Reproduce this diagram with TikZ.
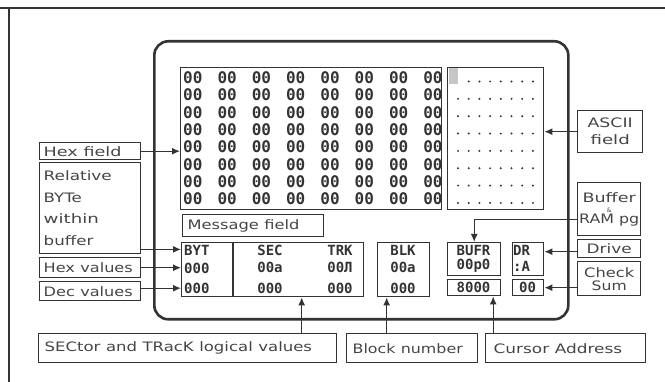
\documentclass[tikz,border=0pt]{standalone}
\usepackage{fontspec}
\usepackage{graphicx}
\setmainfont{DejaVu Sans}
\newfontfamily\lbl{DejaVu Sans}
\newfontfamily\scr{DejaVu Sans Mono}
\usetikzlibrary{arrows.meta}
\newcommand{\hs}[2]{\scalebox{#1}[1]{#2}}
\definecolor{ink}{HTML}{333333}
\definecolor{txt}{HTML}{454545}
\tikzset{
  bx/.style={draw=ink, line width=1.4pt, inner sep=0pt, anchor=north west},
  lbox/.style={bx, font=\lbl\fontsize{13}{14}\selectfont, text=txt, align=left, inner xsep=4pt},
  cbox/.style={bx, font=\lbl\fontsize{13}{14}\selectfont, text=txt, align=center},
  arr/.style={draw=ink, line width=1.3pt, -{Latex[length=8pt,width=7pt]}},
  hexv/.style={font=\scr\bfseries\fontsize{16}{16}\selectfont, text=ink, inner sep=0pt, anchor=west},
  sv/.style={font=\scr\bfseries\fontsize{14}{14}\selectfont, text=ink, inner sep=0pt},
}
\begin{document}
\begin{tikzpicture}[x=1pt,y=-1pt]
\useasboundingbox (0,0) rectangle (665,382);
% outer frame (top and left edges)
\draw[ink, line width=2pt] (0,8.5) -- (665,8.5);
\draw[ink, line width=2pt] (9,8.5) -- (9,382);
% screen
\node[bx, line width=2.6pt, rounded corners=14pt, minimum width=414pt, minimum height=278pt] (screen) at (153,40) {};
% hex grid
\node[bx, minimum width=261pt, minimum height=142pt] (hexg) at (180,67) {};
\begin{scope}
  \clip (180,67) rectangle (440.3,209);
  \foreach \j in {0,...,7} {
    \foreach \i in {0,...,7} {
      \node[hexv] (h\i\j) at (183+34.3*\i, 77.5+17.35*\j) {00};
    }
  }
\end{scope}
% ascii field
\node[bx, minimum width=96pt, minimum height=142pt] (asc) at (447,67) {};
\fill[gray!45] (448.5,68.5) rectangle (458,84);
\foreach \j in {0,...,7} {
  \foreach \i in {0,...,7} {
    \ifnum\j=0 \ifnum\i=0 \else \fill[ink] (458+10.7*\i, 81.5+17.35*\j) circle (1.1pt); \fi
    \else \fill[ink] (458+10.7*\i, 81.5+17.35*\j) circle (1.1pt); \fi
  }
}
% message field
\node[lbox, text width=131pt, minimum height=22pt, inner xsep=5pt] (msg) at (182,214) {\hs{1.25}{Message field}};
% bottom screen fields
\node[bx, minimum width=52pt, minimum height=54pt] (byt) at (181,242) {};
\node[bx, minimum width=130pt, minimum height=54pt] (sectrk) at (233,242) {};
\draw[ink, line width=2.2pt] (sectrk.north west) -- (sectrk.south west);
\node[bx, minimum width=52pt, minimum height=54pt] (blk) at (377,242) {};
\node[bx, minimum width=53pt, minimum height=33pt] (bufr) at (447,242) {};
\node[bx, minimum width=53pt, minimum height=16pt] (eight) at (447,279) {};
\node[bx, minimum width=31pt, minimum height=33pt] (dr) at (512,242) {};
\node[bx, minimum width=31pt, minimum height=16pt] (zz) at (512,279) {};
% values
\node[sv, anchor=west] (t1) at (184,250) {BYT};
\node[sv, anchor=west] (t2) at (184,268) {000};
\node[sv, anchor=west] (t3) at (184,288) {000};
\node[sv] (t4) at (270,250) {SEC};
\node[sv] (t5) at (270,267) {00a};
\node[sv] (t6) at (270,288) {000};
\node[sv] (t7) at (340,250) {TRK};
\node[sv] (t8) at (340,267) {00Л};
\node[sv] (t9) at (340,288) {000};
\node[sv] (t10) at (403,250) {BLK};
\node[sv] (t11) at (403,267) {00a};
\node[sv] (t12) at (403,288) {000};
\node[sv] (t13) at (473.5,250) {BUFR};
\node[sv] (t14) at (473.5,266) {00p0};
\node[sv] (t15) at (473.5,287) {8000};
\node[sv, anchor=west] (t16) at (513,250) {DR};
\node[sv, anchor=west] (t17) at (513,266) {:A};
\node[sv] (t18) at (527.5,287) {00};
% left labels
\node[lbox, text width=93pt, minimum height=17pt] (hexf) at (39,142) {\hs{1.35}{Hex field}};
\node[lbox, text width=93pt, minimum height=91pt, font=\lbl\fontsize{13}{21.5}\selectfont] (rel) at (39,162) {\hs{1.3}{Relative}\\\hs{1.28}{BYTe}\\\hs{1.4}{within}\\\hs{1.28}{buffer}};
\node[lbox, text width=93pt, minimum height=20pt] (hexval) at (39,257) {\hs{1.24}{Hex values}};
\node[lbox, text width=93pt, minimum height=19pt] (decval) at (39,281) {\hs{1.24}{Dec values}};
% right labels
\node[cbox, minimum width=65pt, minimum height=42pt, font=\lbl\fontsize{13}{17}\selectfont] (ascf) at (577,110) {\hs{1.33}{ASCII}\\\hs{1.4}{field}};
\node[cbox, minimum width=63pt, minimum height=53pt, font=\lbl\fontsize{13}{12}\selectfont] (buf) at (577,182) {\hs{1.35}{Buffer}\\[-2pt]{\fontsize{6}{6}\selectfont\&}\\[-1pt]\hs{1.22}{RAM pg}};
\node[cbox, minimum width=63pt, minimum height=18pt] (drv) at (577,239) {\hs{1.3}{Drive}};
\node[cbox, minimum width=63pt, minimum height=34pt, font=\lbl\fontsize{13}{13}\selectfont] (cks) at (577,261) {\hs{1.25}{Check}\\\hs{1.2}{Sum}};
% bottom labels
\node[lbox, text width=286pt, minimum height=29pt, inner xsep=6pt] (sect) at (38,333) {\hs{1.27}{SECtor and TRacK logical values}};
\node[lbox, text width=119pt, minimum height=29pt, inner xsep=6pt] (blkn) at (346,333) {\hs{1.22}{Block number}};
\node[lbox, text width=144pt, minimum height=29pt, inner xsep=8pt] (cura) at (485,333) {\hs{1.3}{Cursor Address}};
% connectors
\draw[arr] (hexf.east) -- (hexf.east -| hexg.west);
\draw[arr] ([yshift=5pt]rel.south east) -- ([yshift=5pt]rel.south east -| byt.west);
\draw[arr] (hexval.east) -- (hexval.east -| byt.west);
\draw[arr] ([yshift=3pt]decval.east) -- ([yshift=3pt]decval.east -| byt.west);
\draw[arr] (ascf.west) -- (ascf.west -| asc.east);
\draw[arr] ([yshift=-10pt]buf.west) -| (bufr.north);
\draw[arr] ([yshift=-3pt]drv.west) -- ([yshift=-3pt]drv.west -| dr.east);
\draw[arr] (cks.west |- zz.east) -- (zz.east);
\draw[arr] ([xshift=3pt]sectrk.south |- sect.north) -- ([xshift=3pt]sectrk.south);
\draw[arr] ([xshift=-17pt]blk.south |- blkn.north) -- ([xshift=-17pt]blk.south);
\draw[arr] ([xshift=19pt]eight.south |- cura.north) -- ([xshift=19pt]eight.south);
\end{tikzpicture}
\end{document}
